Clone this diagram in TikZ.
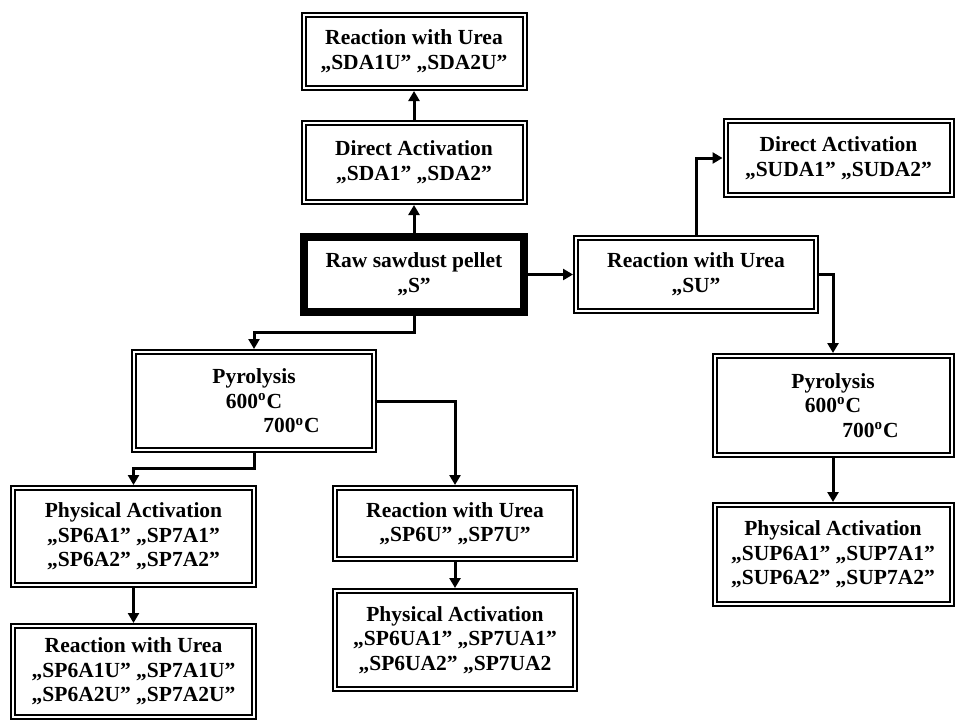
\documentclass[tikz,border=0pt]{standalone}
\usepackage{fontspec}
\setmainfont{Liberation Serif}
\usetikzlibrary{arrows.meta, positioning}

\begin{document}
\begin{tikzpicture}[
    node distance=17.5pt and 26pt,
    % Estilo para etapas del proceso
    stagebox/.style={
            rectangle,
            draw=black,
            double=white,
            line width=1pt,
            double distance=1pt,
            outer sep=0pt,
            inner sep=2pt,
            align=center,
            minimum width=120pt,
            font=\fontsize{10.75}{12.3}\selectfont\bfseries
        },
    % Estilo para la materia prima
    rawbox/.style={
            rectangle,
            draw=black,
            line width=4pt,
            outer sep=0pt,
            inner sep=2pt,
            align=center,
            font=\fontsize{10.75}{12.3}\selectfont\bfseries
        },
    % Flechas
    arrow/.style={
    -{Triangle[length=5pt,width=5.5pt]},
    line width=1.5pt,
    shorten <=1.5pt,
    shorten >=1.5pt
    }
    ]

    \useasboundingbox (0,0) rectangle (478pt,-361pt);

    % ========== PELLET ==========
    \node[rawbox, minimum width=110pt, minimum height=37.5pt] (raw) at (207pt,-137.25pt) {Raw sawdust pellet\\„S”};

    % ========== ACTIVACION DIRECTA (arriba) ==========
    \node[stagebox, minimum width=110.5pt, minimum height=39.5pt, above=of raw] (sda) {Direct Activation\\„SDA1” „SDA2”};
    \node[stagebox, minimum width=110.5pt, minimum height=36.5pt, above=of sda] (sdau) {Reaction with Urea\\„SDA1U” „SDA2U”};

    % ========== UREA (derecha) ==========
    \node[stagebox, minimum height=36.5pt, right=of raw] (su) {Reaction with Urea\\„SU”};
    \node[stagebox, minimum width=113pt, minimum height=37pt, right=100.5pt of sda, yshift=2.25pt] (suda) {Direct Activation\\„SUDA1” „SUDA2”};
    \node[stagebox, minimum width=118.5pt, minimum height=49.5pt, below=80.5pt of suda, xshift=-2.75pt] (pyrR) {Pyrolysis\\600\textsuperscript{o}C\hspace*{11.5pt}\\\hspace*{37.5pt}700\textsuperscript{o}C};
    \node[stagebox, minimum width=118.5pt, minimum height=49.5pt, below=25pt of pyrR] (supa) {Physical Activation\\„SUP6A1” „SUP7A1”\\„SUP6A2” „SUP7A2”};

    % ========== PIROLISIS (abajo) ==========
    \node[stagebox, minimum height=49pt, below=20pt of raw, xshift=-80pt] (pyrL) {Pyrolysis\\600\textsuperscript{o}C\hspace*{11.5pt}\\\hspace*{37.5pt}700\textsuperscript{o}C};
    \node[stagebox, minimum width=120.5pt, minimum height=48.5pt, below=19pt of pyrL, xshift=-60.25pt] (spa) {Physical Activation\\„SP6A1” „SP7A1”\\„SP6A2” „SP7A2”};
    \node[stagebox, minimum width=120.5pt, minimum height=45.5pt, below=20.5pt of spa] (spau) {Reaction with Urea\\„SP6A1U” „SP7A1U”\\„SP6A2U” „SP7A2U”};
    \node[stagebox, minimum height=35.5pt, below=19pt of pyrL, xshift=100.5pt] (sp6u) {Reaction with Urea\\„SP6U” „SP7U”};
    \node[stagebox, minimum height=49pt, below=16pt of sp6u] (sp6ua) {Physical Activation\\„SP6UA1” „SP7UA1”\\„SP6UA2” „SP7UA2};

    % ========== FLECHAS ==========
    \draw[arrow] (raw.north) -- (sda.south);
    \draw[arrow] (sda.north) -- (sdau.south);
    \draw[arrow] (raw.east) -- (su.west);

    % Rama de urea
    \draw[arrow] (su.north) |- (suda.west);
    \draw[arrow] (su.east) -| (pyrR.north);
    \draw[arrow] (pyrR.south) -- (supa.north);

    % Rama de pirolisis
    \draw[arrow] (raw.south) -- ++(0,-10pt) -| (pyrL.north);
    \draw[arrow] (pyrL.east) -| (sp6u.north);
    \draw[arrow] (pyrL.south) -- ++(0,-9pt) -| (spa.north);
    \draw[arrow] (spa.south) -- (spau.north);
    \draw[arrow] (sp6u.south) -- (sp6ua.north);

\end{tikzpicture}
\end{document}
